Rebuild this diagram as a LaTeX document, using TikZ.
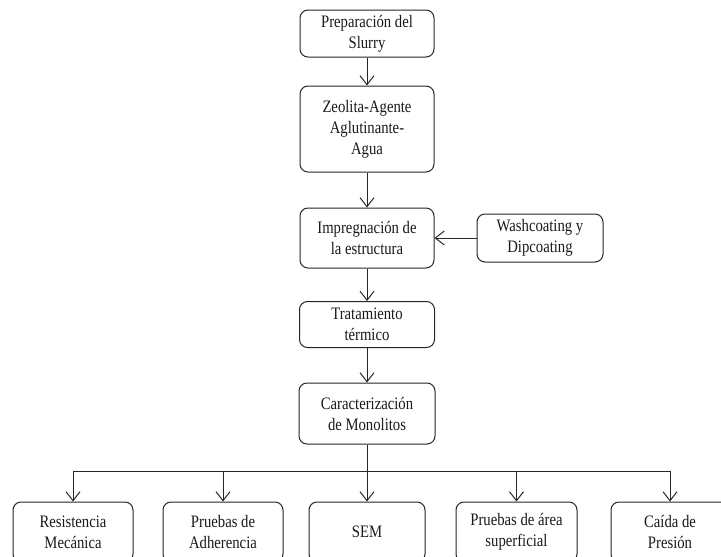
\documentclass[tikz,border=0pt]{standalone}
\usepackage{fontspec}
\setmainfont{Liberation Serif}[FakeStretch=0.84]
\usetikzlibrary{arrows.meta}
\begin{document}
\begin{tikzpicture}[x=1pt,y=-1pt,
  box/.style={draw=black!85, rounded corners=8pt, line width=1pt, align=center,
    font=\fontsize{17.5}{21}\selectfont, inner sep=0pt, text=black!90},
  arr/.style={draw=black!85, -{Straight Barb[length=9pt,width=14pt]}, line width=1pt},
  ln/.style={draw=black!85, line width=1pt}]
\useasboundingbox (0,0) rectangle (721,557);
\clip (0,0) rectangle (721,557);
% main column
\node[box, minimum width=134pt, minimum height=47pt] (b1) at (367,33.5) {Preparación del\\Slurry};
\node[box, minimum width=134pt, minimum height=86pt] (b2) at (367,129) {Zeolita-Agente\\Aglutinante-\\Agua};
\node[box, minimum width=134pt, minimum height=60pt] (b3) at (367,238) {Impregnación de\\la estructura};
\node[box, minimum width=126pt, minimum height=48pt] (b4) at (540,238) {Washcoating y\\Dipcoating};
\node[box, minimum width=135pt, minimum height=46pt] (b5) at (367,324.5) {Tratamiento\\térmico};
\node[box, minimum width=136pt, minimum height=61pt] (b6) at (367,413.5) {Caracterización\\de Monolitos};
% bottom row
\node[box, minimum width=120pt, minimum height=60pt] (c1) at (73,532) {Resistencia\\Mecánica};
\node[box, minimum width=120pt, minimum height=60pt] (c2) at (223,532) {Pruebas de\\Adherencia};
\node[box, minimum width=116pt, minimum height=60pt] (c3) at (367,532) {SEM};
\node[box, minimum width=121pt, minimum height=60pt] (c4) at (516.5,532) {Pruebas de área\\superficial};
\node[box, minimum width=118pt, minimum height=60pt] (c5) at (670,532) {Caída de\\Presión};
% connectors
\draw[arr] (b1) -- (b2);
\draw[arr] (b2) -- (b3);
\draw[arr] (b4.west) -- (b4.west -| b3.east);
\draw[arr] (b3) -- (b5);
\draw[arr] (b5) -- (b6);
\coordinate (bus) at (367,471);
\draw[ln] (b6.south) -- (bus);
\draw[ln] (c1.north |- bus) -- (c5.north |- bus);
\foreach \c in {c1,c2,c3,c4,c5}{
  \draw[arr] (\c.north |- bus) -- (\c.north);
}
\end{tikzpicture}
\end{document}
